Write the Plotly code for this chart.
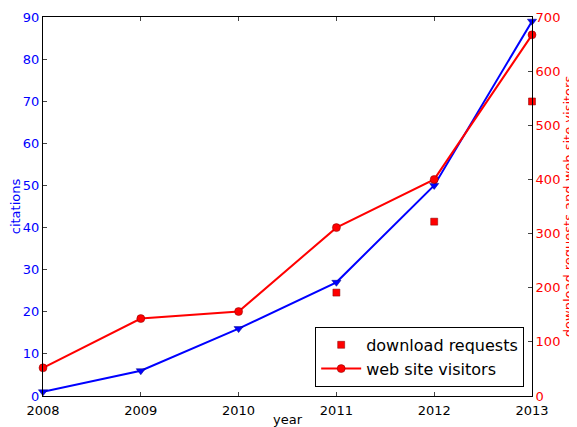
import plotly.graph_objects as go

years = [2008, 2009, 2010, 2011, 2012, 2013]
citations = [1, 6, 16, 27, 50, 89]
visitors = [52, 143, 156, 311, 400, 667]
dl_years = [2011, 2012, 2013]
downloads = [191, 322, 544]

FONT = "DejaVu Sans"
fig = go.Figure()
fig.add_trace(go.Scatter(x=years, y=citations, name="citations", mode="lines+markers",
                         line=dict(color="#0000ff", width=2),
                         marker=dict(symbol="triangle-down", size=8, color="#0000ff",
                                     line=dict(color="#000080", width=0.5)),
                         legend="legend", yaxis="y", cliponaxis=False))
fig.add_trace(go.Scatter(x=dl_years, y=downloads, name="download requests", mode="markers",
                         marker=dict(symbol="square", size=7, color="#ff0000",
                                     line=dict(color="#800000", width=0.5)),
                         legend="legend2", yaxis="y2", cliponaxis=False))
fig.add_trace(go.Scatter(x=years, y=visitors, name="web site visitors", mode="lines+markers",
                         line=dict(color="#ff0000", width=2),
                         marker=dict(symbol="circle", size=8, color="#ff0000",
                                     line=dict(color="#800000", width=0.5)),
                         legend="legend2", yaxis="y2", cliponaxis=False))

fig.update_layout(
    width=569, height=419,
    margin=dict(l=35, r=45, t=9, b=31),
    paper_bgcolor="white", plot_bgcolor="white",
    font=dict(family=FONT, size=13, color="black"),
    xaxis=dict(range=[2008, 2013], tickvals=years, ticks="inside", ticklen=4,
               showgrid=False, zeroline=False, showline=True, linecolor="black",
               linewidth=1, mirror="ticks", automargin=False, ticklabelstandoff=2,
               title=dict(text="year", standoff=2, font=dict(size=13))),
    yaxis=dict(range=[0, 90], dtick=10, ticks="inside", ticklen=4, automargin=False,
               showgrid=False, zeroline=False, showline=True, linecolor="black",
               tickfont=dict(color="#0000ff"),
               title=dict(text="citations", font=dict(color="#0000ff", size=13), standoff=6)),
    yaxis2=dict(range=[0, 700], dtick=100, ticks="inside", ticklen=4, overlaying="y",
                side="right", showgrid=False, zeroline=False, showline=True,
                linecolor="black", tickfont=dict(color="#ff0000"), automargin=False,
                title=dict(text="download requests and web site visitors",
                           font=dict(color="#ff0000", size=13), standoff=4)),
    legend=dict(x=0.018, y=0.976, xanchor="left", yanchor="top",
                bordercolor="black", borderwidth=1, bgcolor="white",
                font=dict(size=16), itemwidth=40),
    legend2=dict(x=0.984, y=0.024, xanchor="right", yanchor="bottom",
                 bordercolor="black", borderwidth=1, bgcolor="white",
                 font=dict(size=16), tracegroupgap=0, itemwidth=40),
)
fig.write_html("out.html")
